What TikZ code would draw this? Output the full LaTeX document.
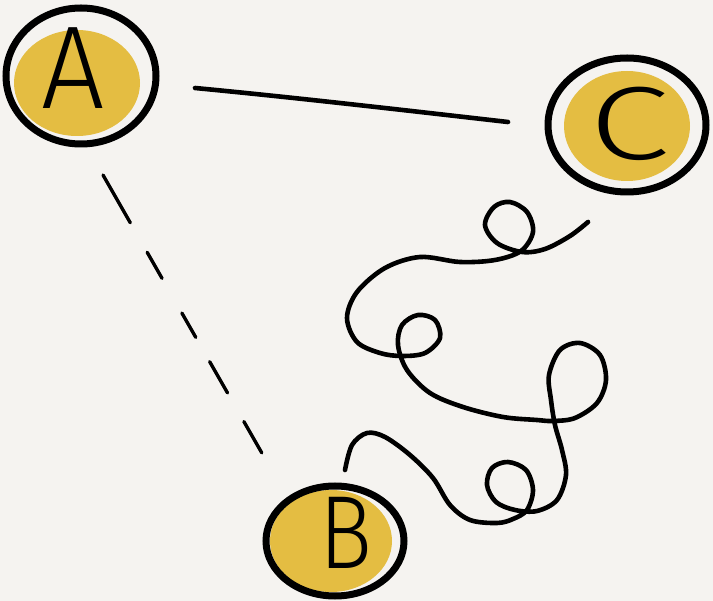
\documentclass[tikz,border=0pt]{standalone}
\usepackage{fontspec}
\newfontfamily\hand{Fira Sans Light}
\definecolor{bg}{RGB}{245,243,240}
\definecolor{yel}{RGB}{228,189,66}
\begin{document}
\begin{tikzpicture}[x=1pt,y=-1pt,
  ring/.style={line width=7pt, draw=black},
  blob/.style={fill=yel, draw=none},
  lab/.style={font=\hand\fontsize{118}{118}\selectfont, inner sep=0pt, text=black},
  solidlink/.style={line width=4.6pt, line cap=round},
  dashlink/.style={line width=3.4pt, line cap=round, dash pattern=on 55pt off 34pt on 30pt off 40pt on 28pt off 28pt on 36pt off 33pt on 36pt},
  curllink/.style={line width=4.6pt, line cap=round, line join=round}]
\fill[bg] (0,0) rectangle (713,601);
\useasboundingbox (0,0) rectangle (713,601);
% circle A
\fill[blob] (77,83) ellipse [x radius=63pt, y radius=53pt];
\draw[ring] (81,76) ellipse [x radius=75pt, y radius=68pt];
\node[lab, xscale=0.95] (A) at (73,68) {A};
% circle C
\fill[blob] (627,126) ellipse [x radius=63pt, y radius=55pt];
\draw[ring] (627,125) ellipse [x radius=79pt, y radius=67pt];
\node[lab, font=\hand\fontsize{104}{104}\selectfont, xscale=1.4] (C) at (630,124) {C};
% circle B
\fill[blob] (331,541) ellipse [x radius=61pt, y radius=51pt];
\draw[ring] (335,541) ellipse [x radius=69pt, y radius=55pt];
\node[lab, font=\hand\fontsize{104}{104}\selectfont, xscale=0.85] (B) at (346,533) {B};
% connector ends
\coordinate (ac1) at (195,88);
\coordinate (ac2) at (508,122);
\coordinate (ab1) at (103,175);
\coordinate (ab2) at (263,455);
\coordinate (cb1) at (588,222);
\coordinate (cb2) at (345,470);
% A -- C
\draw[solidlink] (ac1) .. controls (300,98) and (420,112) .. (ac2);
% A -- B dashed
\draw[dashlink] (ab1) -- (ab2);
% C -- B curly
\draw[curllink] plot[smooth, tension=0.55] coordinates {
 (cb1) (570,236) (545,249) (522,252) (497,243) (485,225) (494,207) (510,202)
 (527,212) (533,232) (521,251) (495,260) (460,262) (420,257) (385,268)
 (357,292) (347,318) (357,342) (380,353) (402,356) (425,353) (440,338)
 (435,320) (418,315) (402,325) (398,345) (407,370) (430,393) (463,407)
 (503,417) (537,420) (553,421) (575,418) (597,403) (606,380) (600,355)
 (580,343) (560,350) (549,375) (551,400) (555,425) (562,450) (566,475)
 (557,500) (537,511) (515,510) (496,502) (487,485) (492,468) (508,462)
 (526,470) (533,490) (527,510) (513,519) (497,523) (470,520) (450,505)
 (433,478) (410,455) (385,437) (367,433) (352,445) (cb2)};
\end{tikzpicture}
\end{document}
